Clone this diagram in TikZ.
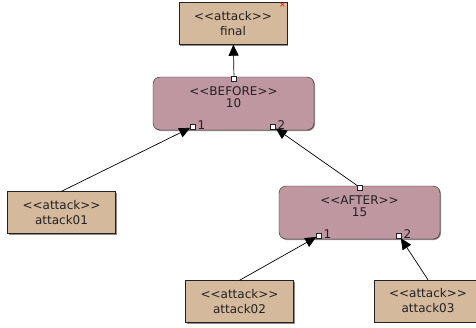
\documentclass[tikz,border=0pt]{standalone}
\usepackage{fontspec}
\setmainfont{DejaVu Sans}[Ligatures=TeXOff]
\usetikzlibrary{arrows.meta,positioning,shadows}
\definecolor{cAttack}{HTML}{D5B99C}
\definecolor{cGate}{HTML}{BF97A0}
\definecolor{cEdge}{HTML}{222222}
\tikzset{
  att/.style  ={draw=cEdge, fill=cAttack, minimum width=108pt, minimum height=42pt,
                align=center, inner sep=0pt, text=cEdge, font=\fontsize{12}{15}\selectfont,
                drop shadow={shadow xshift=1pt, shadow yshift=-1pt, fill=black!45, opacity=1}},
  gate/.style ={draw=cEdge, fill=cGate, rounded corners=7pt, minimum width=161pt,
                minimum height=53pt, inner sep=0pt,
                drop shadow={shadow xshift=1pt, shadow yshift=-1pt, fill=black!45, opacity=1}},
  gtxt/.style ={align=center, inner sep=0pt, text=cEdge, font=\fontsize{12}{12}\selectfont},
  port/.style ={draw=cEdge, fill=white, minimum size=5pt, inner sep=0pt, line width=0.6pt},
  plbl/.style ={anchor=base west, inner sep=0pt, xshift=1.5pt, text=cEdge, font=\fontsize{12}{12}\selectfont},
  arrow/.style={-{Triangle[length=11pt,width=10pt]}, line width=0.7pt, draw=black},
}
\begin{document}
\begin{tikzpicture}[x=1pt, y=-1pt]
  \useasboundingbox (0,0) rectangle (476,327);
  % top event
  \node[att] (fin) at (233,23.5){<<attack>>\\final};
  \node[red, inner sep=0pt, font=\fontsize{8}{8}\selectfont] (del) at (282.5,5.5){×};
  % gates
  \node[gate] (bef) at (233.5,103.5){};
  \node[gtxt] (befl) at (233.5,97.5){<<BEFORE>>\\10};
  \node[gate] (aft) at (359.5,212.5){};
  \node[gtxt] (aftl) at (359.5,206.5){<<AFTER>>\\15};
  % leaves
  \node[att] (a1) at (61.5,212.5){<<attack>>\\attack01};
  \node[att] (a2) at (239.5,301.5){<<attack>>\\attack02};
  \node[att] (a3) at (428,301){<<attack>>\\attack03};
  % ports
  \node[port] (bt) at (234,78.5){};
  \node[port] (b1) at (193,126.5){}; \node[plbl] (b1l) at (b1.south east){1};
  \node[port] (b2) at (273,126.5){}; \node[plbl] (b2l) at (b2.south east){2};
  \node[port] (at) at (360,187.5){};
  \node[port] (t1) at (319,235.5){}; \node[plbl] (t1l) at (t1.south east){1};
  \node[port] (t2) at (399,235.5){}; \node[plbl] (t2l) at (t2.south east){2};
  % connectors
  \draw[arrow] (bt) -- (fin);
  \draw[arrow] (a1.north) -- (b1);
  \draw[arrow] (at) -- (b2);
  \draw[arrow] (a2.north) -- (t1);
  \draw[arrow] (a3.north) -- (t2);
\end{tikzpicture}
\end{document}
